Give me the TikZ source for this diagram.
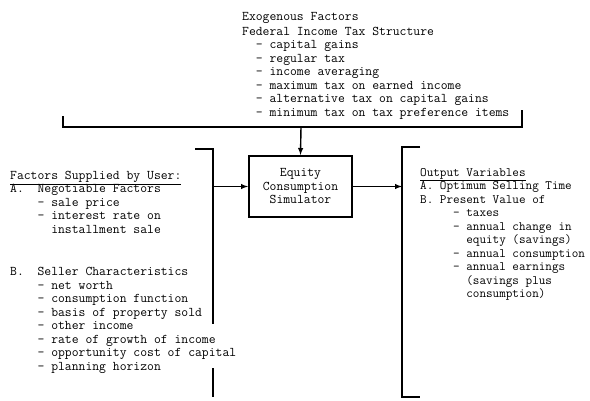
\documentclass[tikz,border=0pt]{standalone}
\usepackage{tikz}
\usetikzlibrary{positioning,arrows,calc}

\newcommand{\ind}[1]{\hspace*{#1\fontcharwd\font`x}}

\begin{document}
\begin{tikzpicture}[x=1pt,y=-1pt,
  every node/.style={inner sep=0pt},
  txt/.style={anchor=north west,align=left,font=\fontsize{13.3}{13.5}\selectfont\ttfamily},
  outtxt/.style={txt,font=\fontsize{12.8}{13.5}\selectfont\ttfamily},
  brk/.style={line width=1.6pt},
  flow/.style={line width=1.4pt,-latex}]

  \useasboundingbox (0,0) rectangle (590,400);

  % exogenous factors
  \node[txt] (exo) at (242,12) {Exogenous Factors\\[1.5pt]
    Federal Income Tax Structure\\
    \ind{2}- capital gains\\
    \ind{2}- regular tax\\
    \ind{2}- income averaging\\
    \ind{2}- maximum tax on earned income\\
    \ind{2}- alternative tax on capital gains\\
    \ind{2}- minimum tax on tax preference items};

  % simulator
  \node[draw,line width=2pt,minimum width=103pt,minimum height=61pt,align=center,
    font=\fontsize{13.3}{13.5}\selectfont\ttfamily] (sim) at (300.5,186.5)
    {Equity\\Consumption\\Simulator};

  % user inputs
  \node[txt] (user) at (10,171) {\underline{Factors Supplied by User:}\\
    A.\ind{2}Negotiable Factors\\
    \ind{4}- sale price\\
    \ind{4}- interest rate on\\
    \ind{6}installment sale\\[29pt]
    B.\ind{2}Seller Characteristics\\
    \ind{4}- net worth\\
    \ind{4}- consumption function\\
    \ind{4}- basis of property sold\\
    \ind{4}- other income\\
    \ind{4}- rate of growth of income\\
    \ind{4}- opportunity cost of capital\\
    \ind{4}- planning horizon};

  % outputs
  \node[outtxt] (out) at (420,168) {\underline{Output Variables}\\
    A.\ind{1}Optimum Selling Time\\
    B.\ind{1}Present Value of\\
    \ind{5}- taxes\\
    \ind{5}- annual change in\\
    \ind{7}equity (savings)\\
    \ind{5}- annual consumption\\
    \ind{5}- annual earnings\\
    \ind{7}(savings plus\\
    \ind{7}consumption)};

  % brackets
  \coordinate (tl) at (63,116);
  \coordinate (tr) at (522,110);
  \coordinate (tm) at (301,127);
  \draw[brk] (tl) -- (tl |- tm) -- (tr |- tm) -- (tr);
  \draw[flow] (tm) -- (sim.north);

  \coordinate (lt) at (195,149);
  \coordinate (lb) at (213,397);
  \draw[brk] (lt) -- (lb |- lt) -- (213,324);
  \draw[brk] (213,368) -- (lb);
  \draw[flow] (sim.west -| lb) -- (sim.west);

  \coordinate (rt) at (420,147);
  \coordinate (rb) at (420,397);
  \draw[brk] (rt) -- (402,147) -- (402,397) -- (rb);
  \draw[flow] (sim.east) -- (sim.east -| 402,0);

\end{tikzpicture}
\end{document}
